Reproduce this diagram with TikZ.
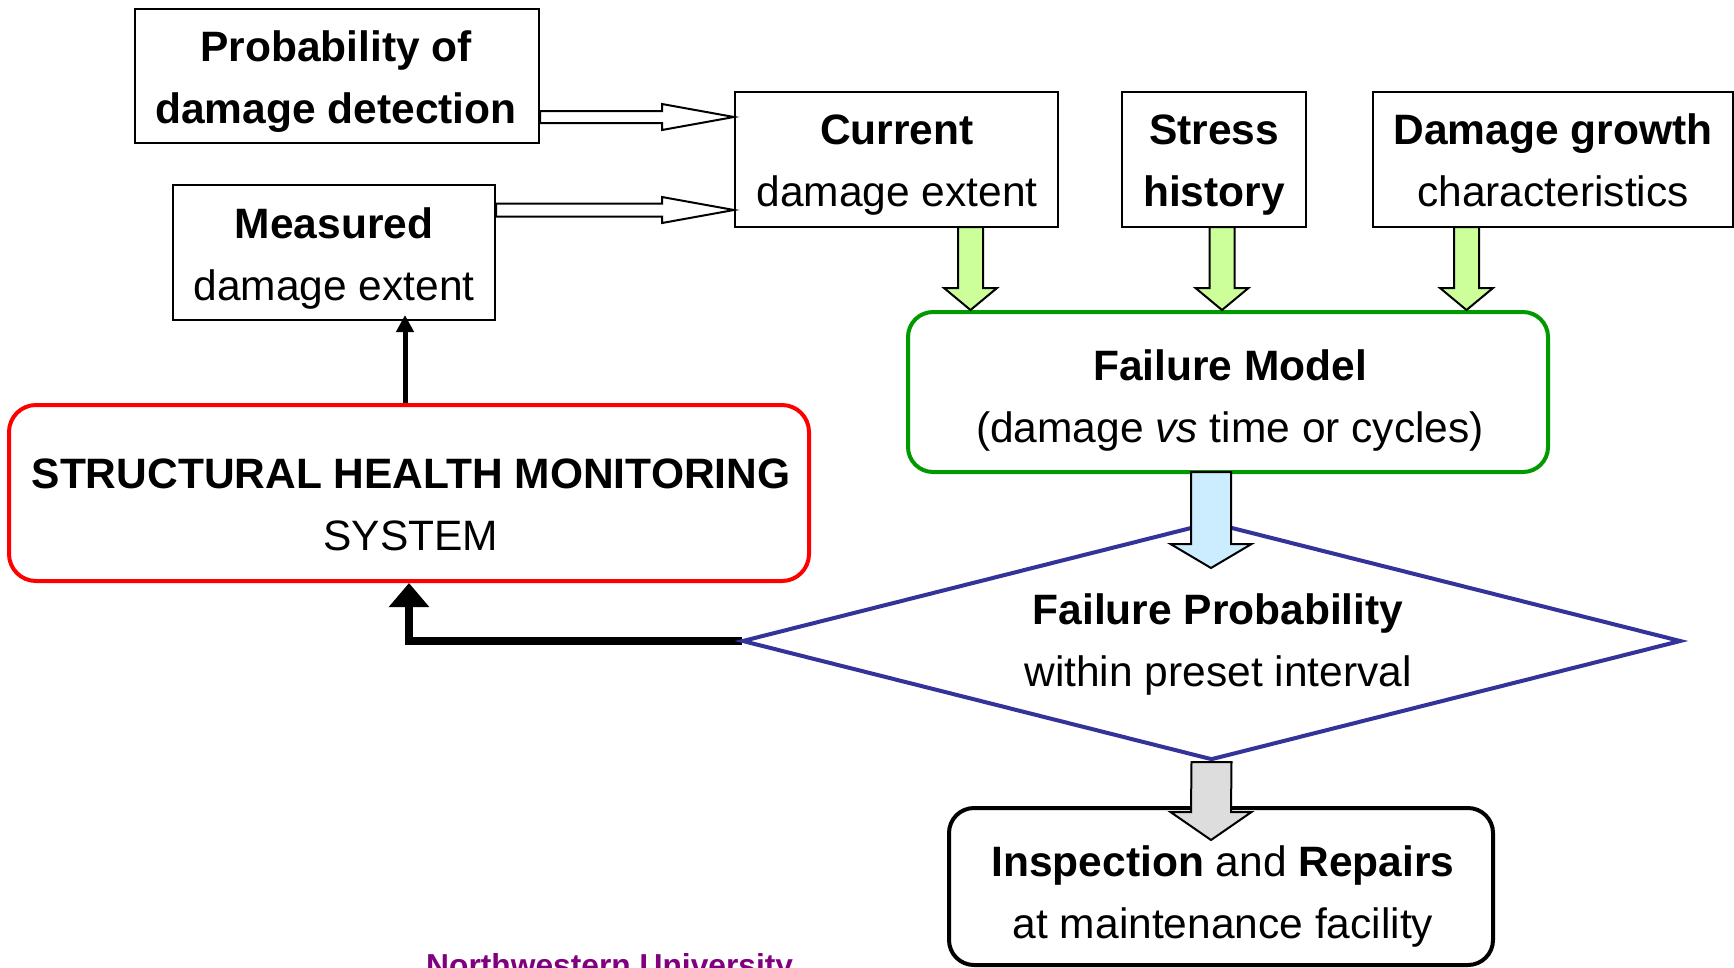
\documentclass[tikz,border=0pt]{standalone}
\usepackage{fontspec}
\setmainfont{Liberation Sans}
\usetikzlibrary{calc,shapes.geometric,arrows.meta}
\definecolor{greenfill}{RGB}{204,255,153}
\definecolor{bluefill}{RGB}{204,236,255}
\definecolor{grayfill}{RGB}{221,221,221}
\definecolor{fmgreen}{RGB}{0,153,0}
\definecolor{shmred}{RGB}{255,0,0}
\definecolor{dblue}{RGB}{51,51,153}
\definecolor{nupurple}{RGB}{128,0,128}
% vertical block arrow: style, top point, tip point, shaft half width, head half width, head length
\newcommand{\blkdown}[6]{\filldraw[#1] ($(#2)+(-#4,0)$) -- ($(#3)+(-#4,-#6)$) -- ($(#3)+(-#5,-#6)$) -- (#3) -- ($(#3)+(#5,-#6)$) -- ($(#3)+(#4,-#6)$) -- ($(#2)+(#4,0)$) -- cycle;}
% horizontal block arrow pointing right
\newcommand{\blkright}[6]{\filldraw[#1] ($(#2)+(0,-#4)$) -- ($(#3)+(-#6,-#4)$) -- ($(#3)+(-#6,-#5)$) -- (#3) -- ($(#3)+(-#6,#5)$) -- ($(#3)+(-#6,#4)$) -- ($(#2)+(0,#4)$) -- cycle;}
\tikzset{
  box/.style={draw=black, line width=2pt, inner sep=0pt},
  rbox/.style={rounded corners=25pt, line width=4pt, inner sep=0pt},
  txt/.style={font=\fontsize{42.5}{62}\selectfont, align=center, inner sep=0pt},
  blockarrow/.style={draw=black, line width=2pt, line join=miter},
}
\begin{document}
\begin{tikzpicture}[x=1pt,y=-1pt]
\useasboundingbox (0,0) rectangle (1734,967);
% boxes
\node[box, minimum width=404pt, minimum height=134pt] (prob) at (337,76) {};
\node[box, minimum width=322pt, minimum height=135pt] (meas) at (334,252.5) {};
\node[box, minimum width=323pt, minimum height=135pt] (cur) at (896.5,159.5) {};
\node[box, minimum width=184pt, minimum height=135pt] (stress) at (1214,159.5) {};
\node[box, minimum width=360pt, minimum height=135pt] (growth) at (1552.5,159.5) {};
\node[rbox, draw=fmgreen, minimum width=640pt, minimum height=160pt] (fm) at (1228,392) {};
\node[rbox, draw=shmred, rounded corners=27pt, minimum width=800pt, minimum height=176pt] (shm) at (409,493) {};
\node[rbox, draw=black, minimum width=544pt, minimum height=157pt] (insp) at (1221,886.5) {};
% texts
\node[txt] (probt) at (336,80) {\strut\textbf{Probability of}\\\strut\textbf{damage detection}};
\node[txt] (meast) at (334,257) {\strut\textbf{Measured}\\\strut damage extent};
\node[txt] (curt) at (897,163) {\strut\textbf{Current}\\\strut damage extent};
\node[txt] (stresst) at (1214,163) {\strut\textbf{Stress}\\\strut\textbf{history}};
\node[txt] (growtht) at (1553,163) {\strut\textbf{Damage growth}\\\strut characteristics};
\node[txt] (fmt) at (1230,399.5) {\strut\textbf{Failure Model}\\\strut(damage \textit{vs} time or cycles)};
\node[txt] (shmt) at (411,507) {\strut\textbf{STRUCTURAL HEALTH MONITORING}\\\strut SYSTEM};
\node[txt] (diat) at (1218,643.5) {\strut\textbf{Failure Probability}\\\strut within preset interval};
\node[txt] (inspt) at (1223,895) {\strut\textbf{Inspection} and \textbf{Repairs}\\\strut at maintenance facility};
\node[font=\fontsize{31.75}{38}\selectfont\bfseries, text=nupurple, inner sep=0pt, anchor=base west] (nu) at (426,976) {Northwestern University};
% feedback arrow
\draw[line width=7.5pt, -{Triangle[width=39pt,length=24pt]}] (742,641) coordinate (fbs) -| (shm.south);
% diamond
\node[diamond, draw=dblue, line width=4pt, minimum width=939pt, minimum height=238pt, inner sep=0pt] (dia) at (1211.5,641) {};
% measured arrow
\coordinate (ma) at ($(shm.north)+(-4,0)$);
\draw[line width=5pt, -{Triangle[width=17pt,length=17pt]}] (ma) -- ($(ma |- meas.south)+(0,-6)$);
% hollow arrows
\coordinate (h1s) at (prob.east |- 0,117);
\coordinate (h1e) at (cur.west |- 0,117);
\coordinate (h2s) at (meas.east |- 0,210);
\coordinate (h2e) at (cur.west |- 0,210);
\blkright{blockarrow, fill=white}{h1s}{h1e}{6}{13}{72}
\blkright{blockarrow, fill=white}{h2s}{h2e}{6.5}{13}{72}
% green arrows
\coordinate (g1) at (970.5,227);
\coordinate (g2) at (1222,227);
\coordinate (g3) at (1466.5,227);
\blkdown{blockarrow, fill=greenfill}{g1}{g1 |- fm.north}{12.5}{26.5}{22}
\blkdown{blockarrow, fill=greenfill}{g2}{g2 |- fm.north}{12.5}{26.5}{22}
\blkdown{blockarrow, fill=greenfill}{g3}{g3 |- fm.north}{12.5}{26.5}{22}
% blue arrow
\coordinate (b1) at (1211,472);
\blkdown{blockarrow, fill=bluefill}{b1}{1211,568}{20}{40.5}{24}
% gray arrow
\coordinate (r1) at (dia.south);
\blkdown{blockarrow, fill=grayfill}{r1}{1211,840}{20}{40.5}{28}
\end{tikzpicture}
\end{document}
